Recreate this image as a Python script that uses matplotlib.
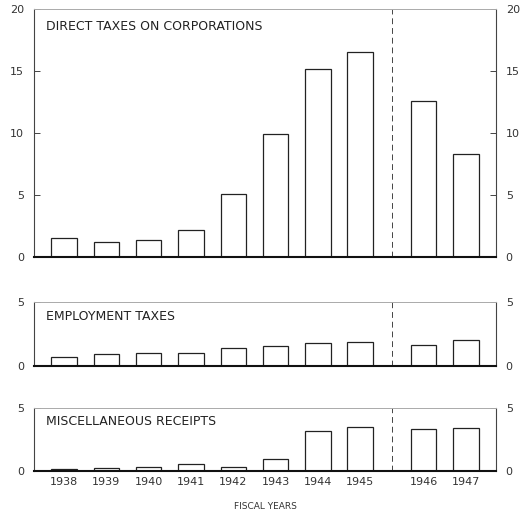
import matplotlib
matplotlib.use("Agg")
import matplotlib.pyplot as plt

years = ["1938", "1939", "1940", "1941", "1942", "1943", "1944", "1945", "1946", "1947"]
positions = [0, 1, 2, 3, 4, 5, 6, 7, 8.5, 9.5]
corporations = [1.5, 1.2, 1.35, 2.2, 5.1, 9.9, 15.2, 16.5, 12.6, 8.3]
employment = [0.73, 0.91, 0.98, 0.98, 1.38, 1.56, 1.82, 1.9, 1.64, 2.03]
miscellaneous = [0.19, 0.24, 0.32, 0.54, 0.32, 0.94, 3.2, 3.5, 3.34, 3.43]
panel_titles = ["DIRECT TAXES ON CORPORATIONS", "EMPLOYMENT TAXES", "MISCELLANEOUS RECEIPTS"]
xlabel = "FISCAL YEARS"
divider = 7.75

W, H = 523, 513
fig = plt.figure(figsize=(W / 100, H / 100), dpi=100)

def frac(left, top, right, bottom):
    return [left / W, 1 - bottom / H, (right - left) / W, (bottom - top) / H]

panels = [
    (frac(34, 9, 496, 257), corporations, 20, [0, 5, 10, 15, 20]),
    (frac(34, 302, 496, 366), employment, 5, [0, 5]),
    (frac(34, 408, 496, 471), miscellaneous, 5, [0, 5]),
]

text_color = "#333333"
for i, (rect, vals, ymax, yt) in enumerate(panels):
    ax = fig.add_axes(rect)
    ax.bar(positions, vals, width=0.6, color="white", edgecolor="#222222", linewidth=0.9, zorder=2)
    ax.set_xlim(-0.71, 10.21)
    ax.set_ylim(0, ymax)
    ax.axvline(divider, color="#444444", linestyle=(0, (6, 4)), linewidth=0.7, zorder=1)
    ax.set_yticks(yt)
    ax.set_yticklabels([str(v) for v in yt])
    ax.tick_params(axis="y", which="both", direction="in", length=4, width=0.7,
                   left=True, right=True, labelleft=True, labelright=True,
                   labelsize=8, labelcolor=text_color, color="#444444", pad=7)
    for s in ["left", "right"]:
        ax.spines[s].set_color("#444444")
        ax.spines[s].set_linewidth(0.8)
    ax.spines["top"].set_color("#aaaaaa")
    ax.spines["top"].set_linewidth(0.7)
    ax.spines["bottom"].set_color("#111111")
    ax.spines["bottom"].set_linewidth(1.5)
    ax.text(0.025, 0.93 if i == 0 else 0.78, panel_titles[i], transform=ax.transAxes,
            ha="left", va="center", fontsize=9, color="#222222")
    ax.set_xticks(positions)
    if i == 2:
        ax.set_xticklabels(years)
        ax.tick_params(axis="x", length=0, pad=4, labelsize=8, labelcolor=text_color)
        ax.set_xlabel(xlabel, fontsize=6.5, color=text_color, labelpad=11)
    else:
        ax.tick_params(axis="x", length=0, labelbottom=False)

fig.savefig("out.png", dpi=100)
